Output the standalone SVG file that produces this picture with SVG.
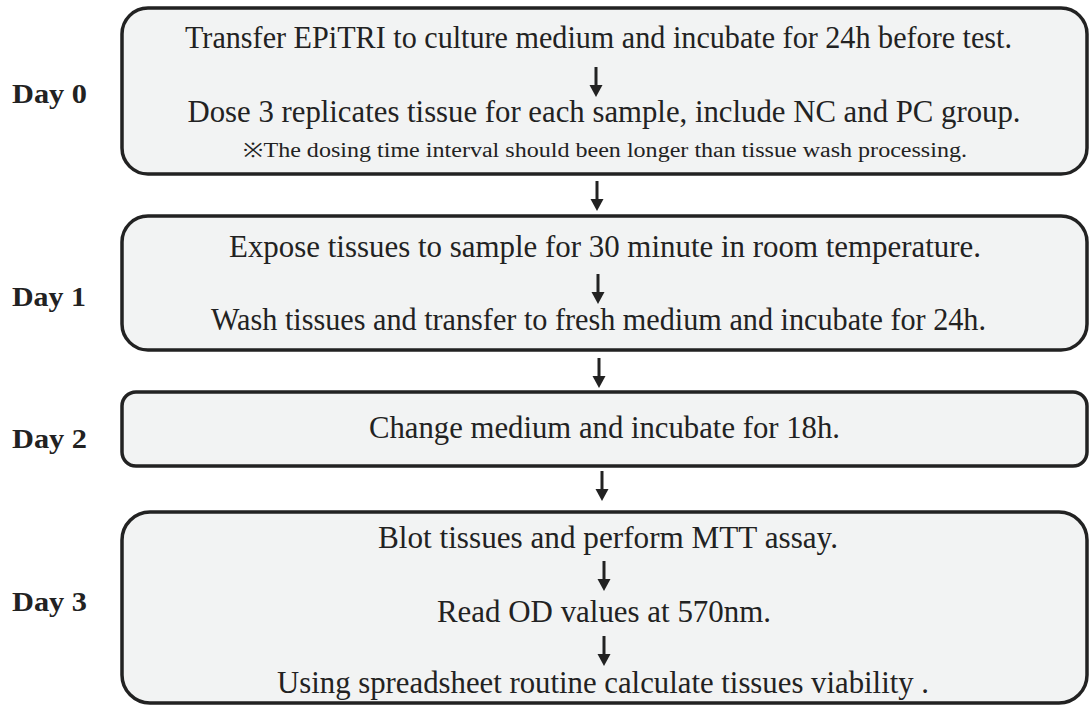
<svg xmlns="http://www.w3.org/2000/svg" xmlns:xlink="http://www.w3.org/1999/xlink" width="1091" height="707" viewBox="0 0 1091 707">
<style>
.box{fill:#f2f3f3;stroke:#222;stroke-width:3.5}
text{font-family:'Liberation Serif','Times New Roman',serif;fill:#222}
.t{font-size:31px;text-anchor:middle}
.s{font-size:20px;text-anchor:middle}
.d{font-size:28px;font-weight:bold}
.ar line{stroke:#222;stroke-width:3}
.ar path{fill:#222}
</style>
<defs>
<g id="arr" class="ar"><line x1="0" y1="0" x2="0" y2="20"/><path d="M-6.5,18 L6.5,18 L0,30 Z"/></g>
</defs>
<rect width="1091" height="707" fill="#ffffff"/>
<g id="labels">
<text class="d" x="12" y="103" textLength="75" lengthAdjust="spacingAndGlyphs">Day 0</text>
<text class="d" x="12" y="306" textLength="74" lengthAdjust="spacingAndGlyphs">Day 1</text>
<text class="d" x="12" y="448" textLength="75" lengthAdjust="spacingAndGlyphs">Day 2</text>
<text class="d" x="12" y="611" textLength="75" lengthAdjust="spacingAndGlyphs">Day 3</text>
</g>
<g id="day0">
<rect class="box" x="122" y="8" width="965" height="166" rx="26"/>
<text class="t" x="598.5" y="48" textLength="827" lengthAdjust="spacingAndGlyphs">Transfer EPiTRI to culture medium and incubate for 24h before test.</text>
<text class="t" x="604" y="122" textLength="833" lengthAdjust="spacingAndGlyphs">Dose 3 replicates tissue for each sample, include NC and PC group.</text>
<text class="s" x="605" y="157" textLength="724" lengthAdjust="spacingAndGlyphs">※The dosing time interval should been longer than tissue wash processing.</text>
</g>
<g id="day1">
<rect class="box" x="122" y="216" width="965" height="134" rx="26"/>
<text class="t" x="605" y="257" textLength="752" lengthAdjust="spacingAndGlyphs">Expose tissues to sample for 30 minute in room temperature.</text>
<text class="t" x="598.5" y="330" textLength="775" lengthAdjust="spacingAndGlyphs">Wash tissues and transfer to fresh medium and incubate for 24h.</text>
</g>
<g id="day2">
<rect class="box" x="122" y="392" width="965" height="74" rx="14"/>
<text class="t" x="604.5" y="438" textLength="471" lengthAdjust="spacingAndGlyphs">Change medium and incubate for 18h.</text>
</g>
<g id="day3">
<rect class="box" x="122" y="512" width="965" height="191" rx="28"/>
<text class="t" x="608" y="548" textLength="460" lengthAdjust="spacingAndGlyphs">Blot tissues and perform MTT assay.</text>
<text class="t" x="604" y="622" textLength="334" lengthAdjust="spacingAndGlyphs">Read OD values at 570nm.</text>
<text class="t" x="603" y="693" textLength="652" lengthAdjust="spacingAndGlyphs">Using spreadsheet routine calculate tissues viability .</text>
</g>
<g id="connectors">
<use xlink:href="#arr" x="596" y="67"/>
<use xlink:href="#arr" x="597" y="181"/>
<use xlink:href="#arr" x="598" y="274"/>
<use xlink:href="#arr" x="599" y="358"/>
<use xlink:href="#arr" x="602" y="471"/>
<use xlink:href="#arr" x="604" y="561"/>
<use xlink:href="#arr" x="604" y="636"/>
</g>
</svg>
